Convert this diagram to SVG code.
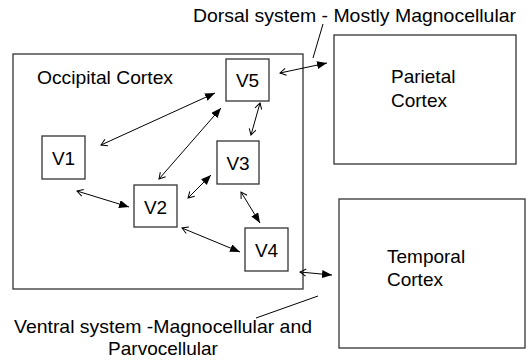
<svg xmlns="http://www.w3.org/2000/svg" width="529" height="361" viewBox="0 0 529 361">
<defs>
<style>
text{font-family:"Liberation Sans",Arial,sans-serif;font-size:19px;fill:#000}
.box{fill:#fff;stroke:#333;stroke-width:1.3}
.c{stroke:#000;stroke-width:1;fill:none}
.ptr{stroke:#000;stroke-width:1;fill:none}
</style>
<marker id="fill" markerUnits="userSpaceOnUse" markerWidth="12" markerHeight="10" refX="10" refY="4" orient="auto">
<path d="M0,0 L10,4 L0,8 Z" fill="#000"/>
</marker>
<marker id="open" markerUnits="userSpaceOnUse" markerWidth="10" markerHeight="10" refX="1" refY="4" orient="auto">
<path d="M7,0.5 L1,4 L7,7.5" fill="none" stroke="#000" stroke-width="1"/>
</marker>
<marker id="open2" markerUnits="userSpaceOnUse" markerWidth="10" markerHeight="10" refX="7" refY="4" orient="auto">
<path d="M1,0.5 L7,4 L1,7.5" fill="none" stroke="#000" stroke-width="1"/>
</marker>
</defs>
<rect width="529" height="361" fill="#fff"/>
<g id="occipital">
<rect class="box" x="13" y="54" width="290" height="235"/>
<text x="37" y="84" textLength="136" lengthAdjust="spacingAndGlyphs">Occipital Cortex</text>
</g>
<g id="parietal">
<rect class="box" x="334" y="35" width="182" height="129"/>
<text x="391" y="83">Parietal</text>
<text x="391" y="107">Cortex</text>
</g>
<g id="temporal">
<rect class="box" x="339" y="199" width="186" height="149"/>
<text x="387" y="263">Temporal</text>
<text x="387" y="286">Cortex</text>
</g>
<g id="v5">
<rect class="box" x="226" y="59" width="43" height="42"/>
<text x="247.5" y="87" text-anchor="middle">V5</text>
</g>
<g id="v1">
<rect class="box" x="42" y="136" width="43" height="43"/>
<text x="63.5" y="165" text-anchor="middle">V1</text>
</g>
<g id="v3">
<rect class="box" x="217" y="141" width="42" height="43"/>
<text x="238" y="170" text-anchor="middle">V3</text>
</g>
<g id="v2">
<rect class="box" x="134" y="185" width="43" height="42"/>
<text x="155.5" y="214" text-anchor="middle">V2</text>
</g>
<g id="v4">
<rect class="box" x="245" y="228" width="43" height="43"/>
<text x="266.5" y="257" text-anchor="middle">V4</text>
</g>
<g id="connectors">
<line class="c" x1="101" y1="145" x2="215" y2="93" marker-start="url(#open)" marker-end="url(#fill)"/>
<line class="c" x1="159" y1="179" x2="221" y2="108" marker-start="url(#open)" marker-end="url(#fill)"/>
<line class="c" x1="260" y1="103" x2="251" y2="135" marker-start="url(#open)" marker-end="url(#open2)"/>
<line class="c" x1="188" y1="198" x2="211" y2="175" marker-start="url(#open)" marker-end="url(#fill)"/>
<line class="c" x1="241" y1="192" x2="260" y2="223" marker-start="url(#open)" marker-end="url(#fill)"/>
<line class="c" x1="182" y1="228" x2="240" y2="252" marker-start="url(#open)" marker-end="url(#fill)"/>
<line class="c" x1="77" y1="191" x2="129" y2="207" marker-start="url(#open)" marker-end="url(#fill)"/>
<line class="c" x1="280" y1="73" x2="327" y2="63" marker-start="url(#open)" marker-end="url(#fill)"/>
<line class="c" x1="300" y1="272" x2="332" y2="275" marker-start="url(#open)" marker-end="url(#fill)"/>
<line class="ptr" x1="323" y1="24" x2="313" y2="58"/>
<line class="ptr" x1="318" y1="296" x2="256" y2="318"/>
</g>
<g id="labels">
<text x="193" y="22" textLength="323" lengthAdjust="spacingAndGlyphs">Dorsal system - Mostly Magnocellular</text>
<text x="14" y="333" textLength="298" lengthAdjust="spacingAndGlyphs">Ventral system -Magnocellular and</text>
<text x="163" y="355" text-anchor="middle">Parvocellular</text>
</g>
</svg>
